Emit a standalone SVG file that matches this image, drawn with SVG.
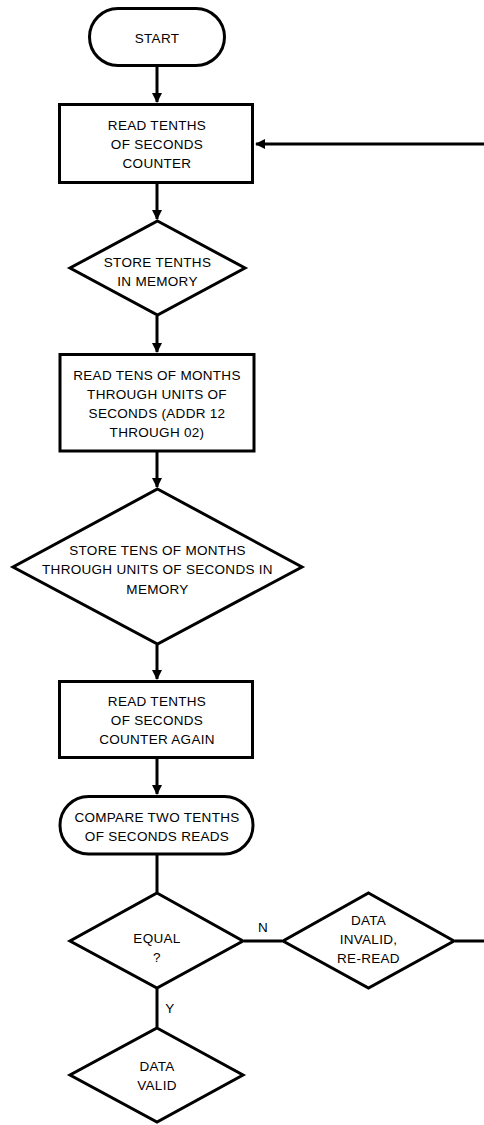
<svg xmlns="http://www.w3.org/2000/svg" width="484" height="1125" viewBox="0 0 484 1125">
<style>
.s{fill:#fff;stroke:#000;stroke-width:3;stroke-linejoin:miter}
.c{fill:none;stroke:#000;stroke-width:3}
text{font-family:"Liberation Sans",Arial,sans-serif;font-size:13.5px;fill:#000;text-anchor:middle;letter-spacing:0.3px}
</style>
<defs>
<marker id="ah" markerWidth="10" markerHeight="10" refX="9" refY="5" orient="auto" markerUnits="userSpaceOnUse">
<path d="M0,0 L10,5 L0,10 Z" fill="#000"/>
</marker>
</defs>
<rect width="484" height="1125" fill="#fff"/>
<g id="connectors">
<line class="c" x1="157" y1="66" x2="157" y2="102" marker-end="url(#ah)"/>
<line class="c" x1="157" y1="184" x2="157" y2="219" marker-end="url(#ah)"/>
<line class="c" x1="157" y1="316" x2="157" y2="352" marker-end="url(#ah)"/>
<line class="c" x1="157" y1="452" x2="157" y2="487" marker-end="url(#ah)"/>
<line class="c" x1="157" y1="645" x2="157" y2="679" marker-end="url(#ah)"/>
<line class="c" x1="157" y1="758" x2="157" y2="794" marker-end="url(#ah)"/>
<line class="c" x1="157" y1="855" x2="157" y2="892"/>
<line class="c" x1="244" y1="941" x2="282" y2="941"/>
<line class="c" x1="157" y1="989" x2="157" y2="1027"/>
<path class="c" d="M455,941 H500 V144 H256" marker-end="url(#ah)"/>
<text x="263" y="932">N</text>
<text x="170" y="1013">Y</text>
</g>
<g id="start">
<rect class="s" x="89.5" y="8.5" width="135" height="57" rx="28.5"/>
<text x="157" y="43">START</text>
</g>
<g id="read1">
<rect class="s" x="59.5" y="104.5" width="193" height="78"/>
<text x="157" y="130">READ TENTHS</text>
<text x="157" y="149">OF SECONDS</text>
<text x="157" y="168">COUNTER</text>
</g>
<g id="store1">
<polygon class="s" points="157.5,221 245,268 157.5,315 70,268"/>
<text x="157.5" y="267">STORE TENTHS</text>
<text x="157.5" y="286">IN MEMORY</text>
</g>
<g id="read2">
<rect class="s" x="60" y="354.5" width="194" height="96.5"/>
<text x="157" y="380">READ TENS OF MONTHS</text>
<text x="157" y="399">THROUGH UNITS OF</text>
<text x="157" y="418">SECONDS (ADDR 12</text>
<text x="157" y="437">THROUGH 02)</text>
</g>
<g id="store2">
<polygon class="s" points="157.5,489 302,567 157.5,644 13,567"/>
<text x="157.5" y="555">STORE TENS OF MONTHS</text>
<text x="157.5" y="574">THROUGH UNITS OF SECONDS IN</text>
<text x="157.5" y="594">MEMORY</text>
</g>
<g id="read3">
<rect class="s" x="59.5" y="681.5" width="193" height="76"/>
<text x="157" y="706">READ TENTHS</text>
<text x="157" y="725">OF SECONDS</text>
<text x="157" y="744">COUNTER AGAIN</text>
</g>
<g id="compare">
<rect class="s" x="60" y="796.5" width="193" height="57.5" rx="28.5"/>
<text x="157" y="822">COMPARE TWO TENTHS</text>
<text x="157" y="841">OF SECONDS READS</text>
</g>
<g id="equal">
<polygon class="s" points="157,893 243,941 157,988 70,941"/>
<text x="157" y="943">EQUAL</text>
<text x="157" y="962">?</text>
</g>
<g id="invalid">
<polygon class="s" points="368.5,893 454,941 368.5,988 283,941"/>
<text x="368.5" y="925">DATA</text>
<text x="368.5" y="944">INVALID,</text>
<text x="368.5" y="963">RE-READ</text>
</g>
<g id="valid">
<polygon class="s" points="157,1028 243,1075 157,1122 70,1075"/>
<text x="157" y="1071">DATA</text>
<text x="157" y="1090">VALID</text>
</g>
</svg>
